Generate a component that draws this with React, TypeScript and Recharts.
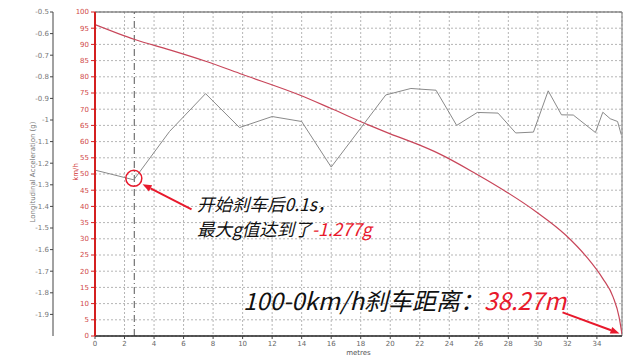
import React from 'react'
import { LineChart, Line, XAxis, YAxis, CartesianGrid, ReferenceLine, ReferenceDot } from 'recharts'

// speed trace (km/h) against distance (m)
const speedMetres = [0, 2.7, 5, 7.5, 10, 13.9, 16, 18.6, 20, 22, 23.3, 25.8, 27.9, 29.9, 31.9, 33.3, 34.4, 35.1, 35.5, 35.7]
const speedKmh = [96.1, 91.5, 88.4, 84.8, 80.7, 74.3, 70.2, 65.0, 62.4, 58.9, 56.3, 50.1, 44.4, 38.3, 31.1, 24.4, 17.7, 12.0, 5.9, 0.5]

// longitudinal acceleration (g) against distance (m)
const accelMetres = [0, 2.63, 5.05, 7.49, 9.79, 12.0, 14.0, 16.0, 19.7, 21.4, 22.0, 23.1, 24.5, 25.9, 27.3, 28.5, 29.7, 30.7, 31.6, 32.4, 33.9, 34.4, 34.9, 35.4, 35.65]
const accelG = [-1.232, -1.277, -1.053, -0.878, -1.035, -0.984, -1.007, -1.218, -0.884, -0.854, -0.857, -0.862, -1.025, -0.965, -0.968, -1.06, -1.056, -0.865, -0.976, -0.977, -1.058, -0.964, -0.994, -1.007, -1.068]

const metreTicks = [0, 2, 4, 6, 8, 10, 12, 14, 16, 18, 20, 22, 24, 26, 28, 30, 32, 34]
const kmhTicks = [0, 5, 10, 15, 20, 25, 30, 35, 40, 45, 50, 55, 60, 65, 70, 75, 80, 85, 90, 95, 100]
const gTicks = [-0.5, -0.6, -0.7, -0.8, -0.9, -1, -1.1, -1.2, -1.3, -1.4, -1.5, -1.6, -1.7, -1.8, -1.9]

const brakeStart = 2.66
const peakPoint = { x: 2.63, g: -1.27 }
const calloutArrow = [{ x: 6.54, y: 39.1 }, { x: 3.22, y: 46.8 }]
const distanceArrow = [{ x: 31.67, y: 7.3 }, { x: 35.53, y: 0.8 }]

const speedData = speedMetres.map((x, i) => ({ x, kmh: speedKmh[i] }))
const accelData = accelMetres.map((x, i) => ({ x, g: accelG[i] }))

// axis ids: recharts puts the alphabetically first left axis next to the plot
const SPEED_AXIS = 'a_kmh'
const ACCEL_AXIS = 'b_g'

const RED = '#e8192c'
const CJK = '"Noto Sans CJK SC", "Noto Sans", sans-serif'

const Arrow = (props: any) => {
  const { x1, y1, x2, y2 } = props
  const a = Math.atan2(y2 - y1, x2 - x1)
  const len = 9
  const w = 3.5
  const bx = x2 - len * Math.cos(a)
  const by = y2 - len * Math.sin(a)
  const p1 = `${bx + w * Math.sin(a)},${by - w * Math.cos(a)}`
  const p2 = `${bx - w * Math.sin(a)},${by + w * Math.cos(a)}`
  return (
    <g>
      <line x1={x1} y1={y1} x2={bx} y2={by} stroke={RED} strokeWidth={2} />
      <polygon points={`${x2},${y2} ${p1} ${p2}`} fill={RED} />
    </g>
  )
}

const SideLabel = (text: string, dx: number, color: string) => (props: any) => {
  const { viewBox } = props
  const cx = viewBox.x + dx
  const cy = viewBox.y + viewBox.height / 2 - 2
  return (
    <text x={cx} y={cy} transform={`rotate(-90 ${cx} ${cy})`} textAnchor="middle" dominantBaseline="central" fontSize={7} fill={color}>
      {text}
    </text>
  )
}

export default function App() {
  return (
    <div style={{ position: 'absolute', left: 0, top: 0, width: 640, height: 356, background: '#fff' }}>
      <LineChart width={640} height={356} margin={{ top: 12, right: 18, bottom: 0, left: 0 }} style={{ fontFamily: '"DejaVu Sans", sans-serif' }}>
        <CartesianGrid yAxisId={SPEED_AXIS} stroke="#b5b5b5" strokeDasharray="2 2" />
        <XAxis
          type="number"
          dataKey="x"
          domain={[0, 35.7]}
          ticks={metreTicks}
          interval={0}
          height={20}
          allowDataOverflow
          axisLine={{ stroke: '#222', strokeWidth: 1.5 }}
          tickLine={{ stroke: '#444' }}
          tickSize={3}
          tickMargin={2}
          tick={{ fontSize: 7, fill: '#666' }}
          label={{ value: 'metres', position: 'insideBottom', offset: 1, fontSize: 7, fill: '#555' }}
        />
        <YAxis
          yAxisId={ACCEL_AXIS}
          orientation="left"
          width={53}
          domain={[-2, -0.5]}
          ticks={gTicks}
          interval={0}
          axisLine={{ stroke: '#444' }}
          tickLine={{ stroke: '#444' }}
          tickSize={3}
          tickMargin={1}
          tick={{ fontSize: 7, fill: '#777' }}
          tickFormatter={(v: number) => String(Number(v.toFixed(1)))}
          label={SideLabel('Longitudinal Acceleration (g)', 33, '#777')}
        />
        <YAxis
          yAxisId={SPEED_AXIS}
          orientation="left"
          width={42}
          domain={[0, 100]}
          ticks={kmhTicks}
          interval={0}
          axisLine={{ stroke: '#d42020', strokeWidth: 2 }}
          tickLine={{ stroke: '#d42020' }}
          tickSize={4}
          tickMargin={2}
          tick={{ fontSize: 7, fill: '#d04848' }}
          label={SideLabel('km/h', 23, '#d03030')}
        />
        <ReferenceLine yAxisId={SPEED_AXIS} y={100} stroke="#555" strokeWidth={1.2} />
        <ReferenceLine yAxisId={SPEED_AXIS} x={35.7} stroke="#777" />
        <ReferenceLine yAxisId={SPEED_AXIS} x={brakeStart} stroke="#555" strokeDasharray="7 3 1 3" />
        <Line
          yAxisId={SPEED_AXIS}
          data={speedData}
          dataKey="kmh"
          type="monotone"
          stroke="#c8465a"
          strokeWidth={1.2}
          dot={false}
          isAnimationActive={false}
        />
        <Line
          yAxisId={ACCEL_AXIS}
          data={accelData}
          dataKey="g"
          type="linear"
          stroke="#8a8a8a"
          strokeWidth={1}
          dot={false}
          isAnimationActive={false}
        />
        <ReferenceDot yAxisId={ACCEL_AXIS} x={peakPoint.x} y={peakPoint.g} r={8} fill="none" stroke={RED} strokeWidth={1.5} />
        <ReferenceLine yAxisId={SPEED_AXIS} segment={calloutArrow} shape={Arrow} />
        <ReferenceLine yAxisId={SPEED_AXIS} segment={distanceArrow} shape={Arrow} />
      </LineChart>
      <svg width={640} height={356} style={{ position: 'absolute', left: 0, top: 0, pointerEvents: 'none' }}>
        <g fontFamily={CJK} fontStyle="italic" fill="#111">
          <text x={197} y={211} fontSize={17.5}>开始刹车后0.1s，</text>
          <text x={197} y={236} fontSize={17.5}>
            最大g值达到了<tspan fill={RED}>-1.277g</tspan>
          </text>
          <text x={243} y={310} fontSize={24}>
            100-0km/h刹车距离：<tspan fill={RED}>38.27m</tspan>
          </text>
        </g>
      </svg>
    </div>
  )
}
